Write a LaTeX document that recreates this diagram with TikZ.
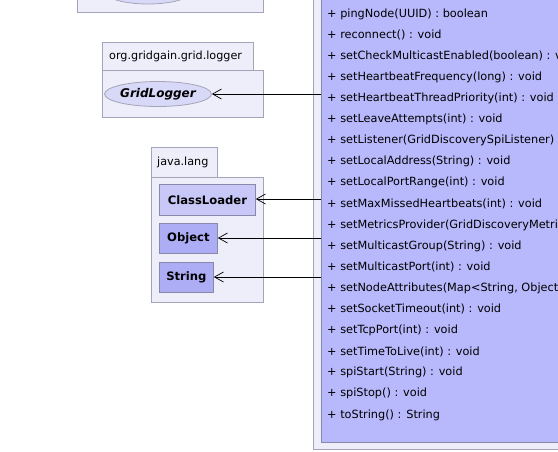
\documentclass[tikz,border=0pt]{standalone}
\usepackage{fontspec}
\setmainfont{DejaVu Sans}
\usetikzlibrary{arrows.meta,shapes.geometric}
\definecolor{pkgfill}{HTML}{EEEEFA}
\definecolor{pkgline}{HTML}{A4A4B8}
\definecolor{clsfill}{HTML}{B8B8FC}
\definecolor{clsline}{HTML}{8888A8}
\definecolor{ifcfill}{HTML}{D8D8F8}
\definecolor{lightcls}{HTML}{C8C8F8}
\definecolor{darkcls}{HTML}{ADADF6}
\tikzset{
  pkg/.style={draw=pkgline, fill=pkgfill, line width=0.8pt},
  cls/.style={draw=clsline, fill=clsfill, line width=0.8pt},
  member/.style={anchor=west, inner sep=0pt, font=\fontsize{11.3}{13}\selectfont},
  pkgname/.style={anchor=west, inner sep=0pt, font=\fontsize{11.2}{13}\selectfont},
  clsname/.style={draw=clsline, line width=0.8pt, anchor=north west, inner sep=0pt,
    font=\bfseries\fontsize{11.6}{13}\selectfont},
  dep/.style={draw=black, line width=0.7pt, -{Straight Barb[length=9pt,width=10pt,line width=0.7pt]}}
}
\begin{document}
\begin{tikzpicture}[x=1pt,y=-1pt]
\useasboundingbox (0,0) rectangle (558,451);
\fill[white] (0,0) rectangle (558,451);
\begin{scope}
\clip (0,0) rectangle (558,451);

% package above (only its lower edge shows)
\draw[pkg] (77,-40) rectangle (263,12);
\node[ellipse, draw=pkgline, fill=ifcfill, line width=0.8pt,
      minimum width=94pt, minimum height=30pt] (topifc) at (148,-11) {};

% discovery SPI class, left side of its package
\draw[pkg] (313,-20) rectangle (600,449);
\node[cls, anchor=north west, minimum width=300pt, minimum height=462pt,
      inner sep=0pt] (spi) at (321,-20) {};

% operations
\foreach \txt [count=\i from 0] in {
  {+ pingNode(UUID) : boolean},
  {+ reconnect() : void},
  {+ setCheckMulticastEnabled(boolean) : void},
  {+ setHeartbeatFrequency(long) : void},
  {+ setHeartbeatThreadPriority(int) : void},
  {+ setLeaveAttempts(int) : void},
  {+ setListener(GridDiscoverySpiListener) : void},
  {+ setLocalAddress(String) : void},
  {+ setLocalPortRange(int) : void},
  {+ setMaxMissedHeartbeats(int) : void},
  {+ setMetricsProvider(GridDiscoveryMetricsProvider) : void},
  {+ setMulticastGroup(String) : void},
  {+ setMulticastPort(int) : void},
  {+ setNodeAttributes(Map<String, Object>) : void},
  {+ setSocketTimeout(int) : void},
  {+ setTcpPort(int) : void},
  {+ setTimeToLive(int) : void},
  {+ spiStart(String) : void},
  {+ spiStop() : void},
  {+ toString() : String}}
  \node[member] (op\i) at (327,{14+21.1*\i}) {\txt};

% package org.gridgain.grid.logger
\draw[pkg] (102,42) rectangle (253,70);
\draw[pkg] (102,70) rectangle (263,117);
\node[pkgname] (loggerpkg) at (109,56) {org.gridgain.grid.logger};
\node[ellipse, draw=pkgline, fill=ifcfill, line width=0.8pt,
      minimum width=97pt, minimum height=25pt, inner sep=0pt,
      font=\bfseries\itshape\fontsize{12}{13}\selectfont] (logger) at (158,94) {GridLogger};

% package java.lang
\draw[pkg] (151,147) rectangle (217,177);
\draw[pkg] (151,177) rectangle (263,302);
\node[pkgname] (langpkg) at (157,162) {java.lang};
\node[clsname, fill=lightcls, minimum width=96pt, minimum height=31pt] (classloader) at (159,184) {ClassLoader};
\node[clsname, fill=darkcls, minimum width=58pt, minimum height=30pt] (object) at (159,223) {Object};
\node[clsname, fill=darkcls, minimum width=54pt, minimum height=30pt] (string) at (159,262) {String};

% dependencies
\coordinate (s1) at (321,94);
\coordinate (s2) at (321,199);
\coordinate (s3) at (321,238);
\coordinate (s4) at (321,277);
\draw[dep] (s1) -- (logger.east |- s1);
\draw[dep] (s2) -- (classloader.east |- s2);
\draw[dep] (s3) -- (object.east |- s3);
\draw[dep] (s4) -- (string.east |- s4);
\end{scope}
\end{tikzpicture}
\end{document}
